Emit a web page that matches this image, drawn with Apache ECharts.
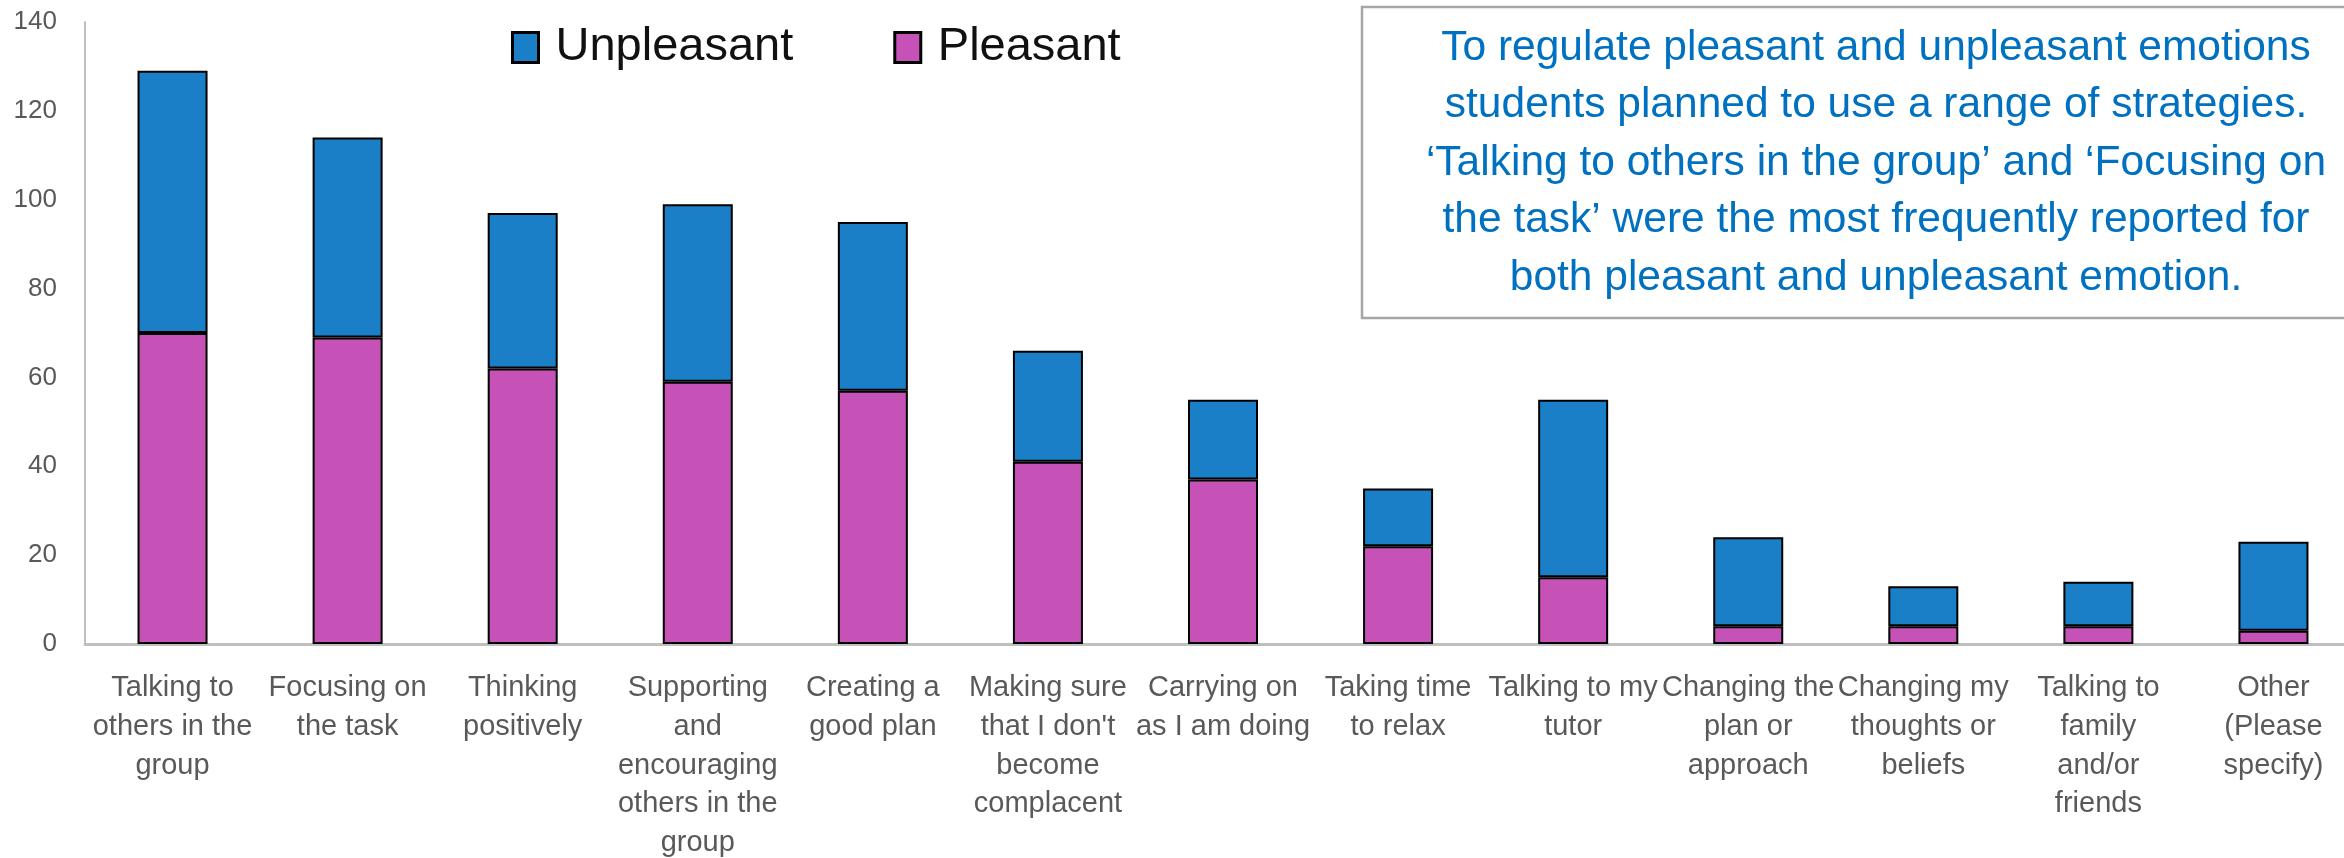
<!DOCTYPE html>
<html>
<head>
<meta charset="utf-8">
<script src="https://cdn.jsdelivr.net/npm/echarts@6/dist/echarts.min.js"></script>
<style>
  html, body { margin: 0; padding: 0; background: #fff; }
  #chart { width: 2344px; height: 858px; }
</style>
</head>
<body>
<div id="chart"></div>
<script>
const categories = [
  'Talking to\nothers in the\ngroup',
  'Focusing on\nthe task',
  'Thinking\npositively',
  'Supporting\nand\nencouraging\nothers in the\ngroup',
  'Creating a\ngood plan',
  "Making sure\nthat I don't\nbecome\ncomplacent",
  'Carrying on\nas I am doing',
  'Taking time\nto relax',
  'Talking to my\ntutor',
  'Changing the\nplan or\napproach',
  'Changing my\nthoughts or\nbeliefs',
  'Talking to\nfamily\nand/or\nfriends',
  'Other\n(Please\nspecify)'
]
const pleasant = [70, 69, 62, 59, 57, 41, 37, 22, 15, 4, 4, 4, 3]
const unpleasant = [59, 45, 35, 40, 38, 25, 18, 13, 40, 20, 9, 10, 20]
const noteLines = [
  'To regulate pleasant and unpleasant emotions',
  'students planned to use a range of strategies.',
  '\u2018Talking to others in the group\u2019 and \u2018Focusing on',
  'the task\u2019 were the most frequently reported for',
  'both pleasant and unpleasant emotion.'
]

const myChart = echarts.init(document.getElementById('chart'))
const font = 'Liberation Sans, Arial, sans-serif'

const option = {
  animation: false,
  backgroundColor: '#fff',
  textStyle: { fontFamily: font },
  legend: {
    data: ['Unpleasant', 'Pleasant'],
    left: 506,
    top: 19,
    itemWidth: 26,
    itemHeight: 30,
    itemGap: 100,
    icon: 'rect',
    itemStyle: { borderColor: '#000', borderWidth: 3 },
    textStyle: { fontSize: 47, color: '#111', padding: [0, 0, 0, 12], fontFamily: font }
  },
  grid: { left: 85, top: 22, bottom: 214, right: -17, outerBoundsMode: 'none', containLabel: false },
  xAxis: {
    type: 'category',
    data: categories,
    axisTick: { show: false },
    axisLine: { lineStyle: { color: '#BFBFBF', width: 3 } },
    axisLabel: {
      interval: 0,
      color: '#595959',
      fontSize: 29,
      lineHeight: 38.6,
      margin: 25,
      fontFamily: font
    }
  },
  yAxis: {
    type: 'value',
    min: 0,
    max: 140,
    interval: 20,
    splitLine: { show: false },
    axisTick: { show: false },
    axisLine: { show: true, lineStyle: { color: '#BFBFBF', width: 2 } },
    axisLabel: { color: '#595959', fontSize: 26, margin: 28, fontFamily: font }
  },
  series: [
    {
      name: 'Pleasant',
      type: 'bar',
      stack: 'total',
      barWidth: 70,
      data: pleasant,
      itemStyle: { color: '#C652B8', borderColor: '#000', borderWidth: 2 }
    },
    {
      name: 'Unpleasant',
      type: 'bar',
      stack: 'total',
      barWidth: 70,
      data: unpleasant,
      itemStyle: { color: '#1B7FC7', borderColor: '#000', borderWidth: 2 }
    }
  ],
  graphic: [
    {
      type: 'rect',
      shape: { x: 1362, y: 7, width: 1010, height: 311 },
      style: { fill: '#fff', stroke: '#A6A6A6', lineWidth: 2.5 },
      z: 10
    },
    {
      type: 'text',
      x: 1876,
      y: 19,
      z: 11,
      style: {
        text: noteLines.join('\n'),
        fill: '#0070C0',
        font: '42.5px ' + font,
        lineHeight: 57.6,
        align: 'center',
        verticalAlign: 'top'
      }
    }
  ]
}

option && myChart.setOption(option)
</script>
</body>
</html>
